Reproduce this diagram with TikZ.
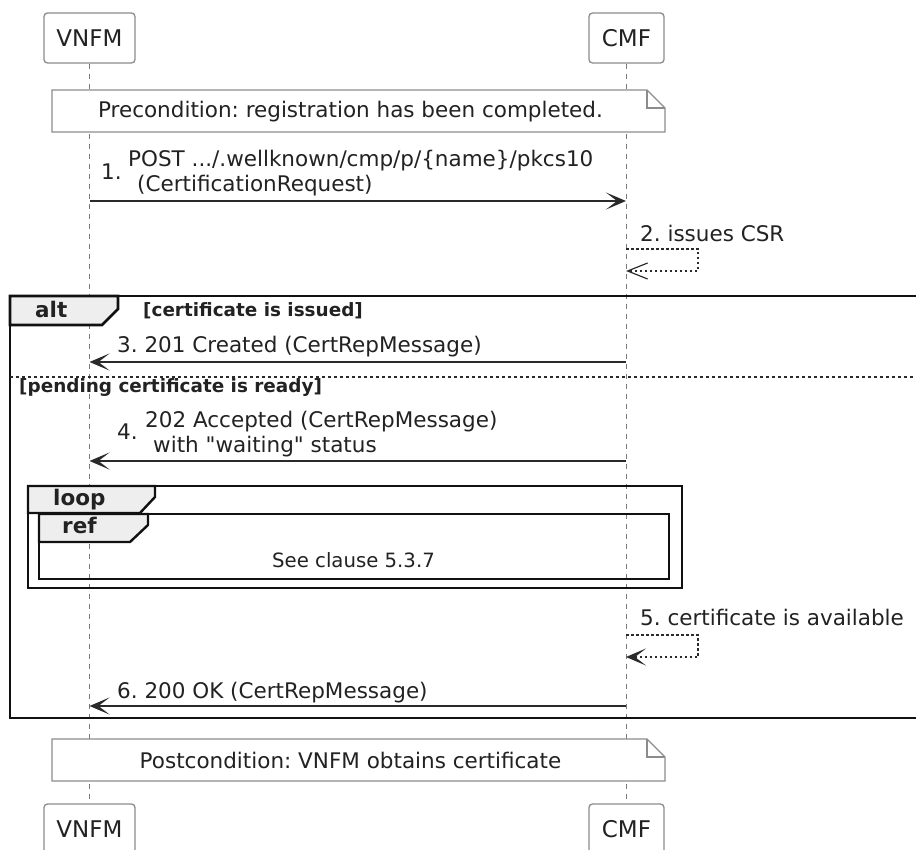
\documentclass[tikz,border=0pt]{standalone}
\usepackage{fontspec}
\setmainfont{DejaVu Sans}
\newfontfamily\rawfont{DejaVu Sans}
\usetikzlibrary{arrows.meta}
\definecolor{txt}{HTML}{222222}
\definecolor{ln}{HTML}{2A2A2A}
\definecolor{bd}{HTML}{8C8C8C}
\definecolor{lifec}{HTML}{7A7A7A}
\definecolor{tabfill}{HTML}{EEEEEE}
\definecolor{frm}{HTML}{111111}
\frenchspacing
\begin{document}
\begin{tikzpicture}[x=1pt,y=-1pt,
  msgfont/.style={font=\fontsize{21.5}{25}\selectfont, text=txt, inner sep=0pt},
  actorbox/.style={draw=bd, line width=1.3pt, rounded corners=3.5pt, fill=white, inner sep=0pt,
     minimum height=50pt, font=\fontsize{23}{26}\selectfont, text=txt},
  lifeline/.style={draw=lifec, line width=1pt, dash pattern=on 5pt off 5pt},
  notebd/.style={draw=bd, line width=1.2pt, fill=white},
  framebd/.style={draw=frm, line width=2.8pt},
  subframe/.style={draw=frm, line width=2.4pt},
  tabstyle/.style={draw=frm, line width=2.4pt, fill=tabfill},
  tablabel/.style={font=\bfseries\fontsize{21.5}{25}\selectfont, text=txt, inner sep=0pt, anchor=base west},
  guard/.style={font=\bfseries\fontsize{18.4}{22}\selectfont, text=txt, inner sep=0pt, anchor=base west},
  msg/.style={draw=ln, line width=1.4pt, -{Stealth[length=20pt,width=17pt,inset=11pt]}},
  selfmsg/.style={draw=ln, line width=1.2pt, dash pattern=on 2.5pt off 2.5pt},
  selfopen/.style={selfmsg, -{Straight Barb[length=20pt,width=16pt,line width=1.2pt]}},
  selfclosed/.style={selfmsg, -{Stealth[length=20pt,width=17pt,inset=11pt]}},
  seppat/.style={draw=ln, line width=1.3pt, dash pattern=on 3pt off 3pt}
]
\fill[white] (0,0) rectangle (916,850);
\useasboundingbox (0,0) rectangle (916,850);

% actors
\node[actorbox, minimum width=91pt] (vnfmT) at (89.5,38) {VNFM};
\node[actorbox, minimum width=75pt] (cmfT) at (626.5,38) {CMF};
\node[actorbox, minimum width=91pt] (vnfmB) at (89.5,829) {VNFM};
\node[actorbox, minimum width=75pt] (cmfB) at (626.5,829) {CMF};

% lifelines
\draw[lifeline] (vnfmT.south) -- (vnfmB.north);
\draw[lifeline] (cmfT.south) -- (cmfB.north);

% precondition note
\draw[notebd] (52,90) -- (647,90) -- (665,108) -- (665,132) -- (52,132) -- cycle;
\draw[notebd, fill=none] (647,90) -- (647,108) -- (665,108);
\node[msgfont, anchor=base] (pre) at (350.5,118) {Precondition: registration has been completed.};

% message 1
\coordinate (v1) at (89.5,201);
\coordinate (c1) at (626,201);
\draw[msg] (v1) -- (c1);
\node[msgfont, anchor=base west] (l1n) at (101,180) {1.};
\node[msgfont, anchor=base west] (l1a) at (128,167) {POST .../.wellknown/cmp/p/\{name\}/pkcs10};
\node[msgfont, anchor=base west] (l1b) at (137,192) {(CertificationRequest)};

% message 2 (self)
\coordinate (c2a) at (626,249);
\coordinate (c2b) at (626,271);
\draw[selfopen] (c2a) -- (698,249) -- (698,271) -- (c2b);
\node[msgfont, anchor=base west] (l2) at (640,242) {2. issues CSR};

% alt frame
\draw[framebd] (10,296) rectangle (940,718);
\draw[tabstyle, line width=2.8pt] (10,296) -- (118,296) -- (118,309) -- (102,325) -- (10,325) -- cycle;
\node[tablabel] (altl) at (35,318) {alt};
\node[guard] (g1) at (143,317) {[certificate is issued]};

% message 3
\coordinate (c3) at (626,362);
\coordinate (v3) at (89.5,362);
\draw[msg] (c3) -- (v3);
\node[msgfont, anchor=base west] (l3) at (117,353) {3. 201 Created (CertRepMessage)};

% separator
\draw[seppat] (10,377) -- (940,377);
\node[guard] (g2) at (19,392) {[pending certificate is ready]};

% message 4
\coordinate (c4) at (626,461);
\coordinate (v4) at (89.5,461);
\draw[msg] (c4) -- (v4);
\node[msgfont, anchor=base west] (l4n) at (117,439) {4.};
\node[msgfont, anchor=base west] (l4a) at (145,427) {202 Accepted (CertRepMessage)};
\node[msgfont, anchor=base west] (l4b) at (153,452) {\rawfont with "waiting" status};

% loop frame
\draw[subframe] (28,486) rectangle (682,588);
\draw[tabstyle] (28,486) -- (155,486) -- (155,497) -- (140,513) -- (28,513) -- cycle;
\node[tablabel] (loopl) at (53,505) {loop};

% ref frame
\draw[subframe] (39,514) rectangle (669,579);
\draw[tabstyle] (39,514) -- (148,514) -- (148,525) -- (130,542) -- (39,542) -- cycle;
\node[tablabel] (refl) at (62,533) {ref};
\node[font=\fontsize{19.7}{23}\selectfont, text=txt, inner sep=0pt, anchor=base] (refx) at (353.5,567) {See clause 5.3.7};

% message 5 (self)
\coordinate (c5a) at (626,635);
\coordinate (c5b) at (626,657);
\draw[selfclosed] (c5a) -- (698,635) -- (698,657) -- (c5b);
\node[msgfont, anchor=base west] (l5) at (640,625) {5. certificate is available};

% message 6
\coordinate (c6) at (626,706);
\coordinate (v6) at (89.5,706);
\draw[msg] (c6) -- (v6);
\node[msgfont, anchor=base west] (l6) at (117,698) {6. 200 OK (CertRepMessage)};

% postcondition note
\draw[notebd] (52,739) -- (647,739) -- (665,757) -- (665,781) -- (52,781) -- cycle;
\draw[notebd, fill=none] (647,739) -- (647,757) -- (665,757);
\node[msgfont, anchor=base] (post) at (350.5,768) {Postcondition: VNFM obtains certificate};
\end{tikzpicture}
\end{document}
